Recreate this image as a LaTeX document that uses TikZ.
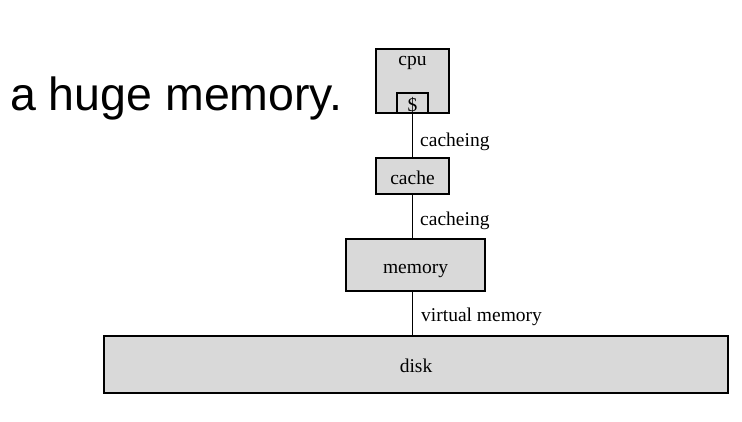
\documentclass[tikz,border=0pt]{standalone}
\usepackage{fontspec}
\setmainfont{Liberation Serif}
\newfontfamily\talkfont{Liberation Sans}
\usepackage{tikz}
\definecolor{boxgray}{RGB}{217,217,217}
\tikzset{box/.style={draw, fill=boxgray, line width=1.3pt, inner sep=0pt,
    text height=16pt, text depth=0pt,
    font=\fontsize{19.5}{22}\selectfont}}
\tikzset{lbl/.style={inner sep=0pt, anchor=base west,
    font=\fontsize{19.5}{22}\selectfont}}

\begin{document}
\begin{tikzpicture}[x=1pt,y=-1pt]
    \useasboundingbox (0,0) rectangle (742,421);
    \node[inner sep=0pt, anchor=base west, font=\talkfont\fontsize{46.5}{50}\selectfont] (talk) at (10,110) {a huge memory.};

    \node[box, minimum width=73pt, minimum height=64pt] (cpu) at (412.5,81) {};
    \node[lbl, anchor=base] (cputext) at (412.5,65) {cpu};
    \node[box, minimum width=31pt, minimum height=20pt] (dollar) at (412.5,103) {\$};
    \node[box, minimum width=73pt, minimum height=36pt] (cache) at (412.5,176) {cache};
    \node[box, minimum width=139pt, minimum height=52pt] (memory) at (415.5,265) {memory};
    \node[box, minimum width=624pt, minimum height=57pt] (disk) at (416,364.5) {disk};

    \draw[line width=1.6pt] (dollar.south) -- (cache.north);
    \draw[line width=1.6pt] (cache.south) -- (cache.south |- memory.north);
    \draw[line width=1.6pt] (memory.south -| cache) -- (disk.north -| cache);

    \node[lbl] (cache1) at (420,146) {cacheing};
    \node[lbl] (cache2) at (420,225) {cacheing};
    \node[lbl] (virt) at (421,321) {virtual memory};
  \end{tikzpicture}
\end{document}
